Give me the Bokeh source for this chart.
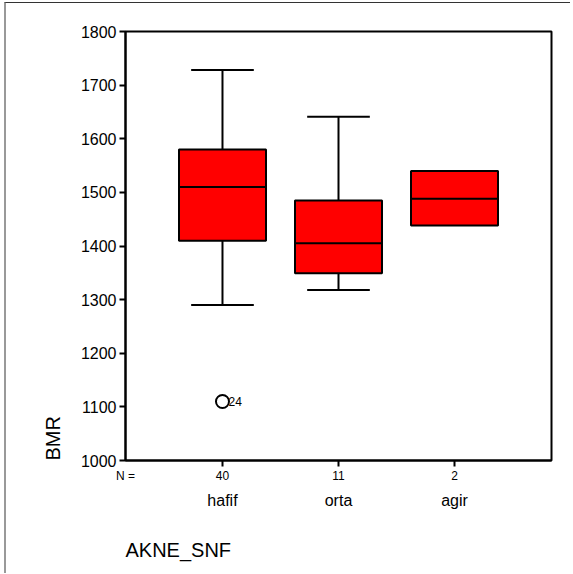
import math
from bokeh.plotting import figure
from bokeh.models import Range1d, FixedTicker, LinearAxis, Title
from bokeh.embed import file_html
from bokeh.resources import INLINE
from bokeh.core.properties import value

# ---- data ----
categories = ["hafif", "orta", "agir"]
counts = ["40", "11", "2"]
positions = [1, 2, 3]
q1 = [1410, 1349, 1438]
median = [1510, 1405, 1488]
q3 = [1580, 1485, 1540]
whisker_low = [1290, 1318, None]
whisker_high = [1728, 1641, None]
outlier_pos = [1]
outlier_val = [1110]
outlier_id = ["24"]
y_ticks = [1000, 1100, 1200, 1300, 1400, 1500, 1600, 1700, 1800]
n_label = "N ="
x_lo, x_hi = 0.164, 3.836

FONT = "Liberation Sans"
BOX_W = 0.75
CAP_W = 0.54

p = figure(width=566, height=571, output_backend="svg", toolbar_location=None,
           x_range=Range1d(x_lo, x_hi), y_range=Range1d(1000, 1800),
           min_border_left=119, min_border_top=28, min_border_right=21,
           min_border_bottom=114, x_axis_type=None)
p.styles = {"margin-left": "4px", "margin-top": "2px",
            "border-left": "2px solid #999999", "border-top": "1px solid #333333"}
p.grid.visible = False
p.outline_line_color = "black"
p.outline_line_width = 2
p.outline_line_alpha = 1
p.background_fill_color = "white"
p.border_fill_color = "white"

# y axis
ya = p.yaxis[0]
ya.ticker = FixedTicker(ticks=y_ticks)
ya.major_label_text_font = FONT
ya.major_label_text_font_size = "16px"
ya.major_label_text_color = "black"
ya.major_tick_out = 6
ya.major_tick_in = 0
ya.minor_tick_line_color = None
ya.axis_line_width = 2
ya.major_tick_line_width = 2
ya.major_label_standoff = 3

# x axis line + tick marks only
xa0 = LinearAxis(ticker=FixedTicker(ticks=positions),
                 major_label_overrides={pos: " " for pos in positions})
xa0.major_label_text_font_size = "0px"
xa0.major_label_standoff = 0
xa0.major_tick_out = 6
xa0.major_tick_in = 0
xa0.minor_tick_line_color = None
xa0.axis_line_width = 2
xa0.major_tick_line_width = 2
p.add_layout(xa0, "below")

# counts row (with "N =")
count_ticks = [x_lo] + positions
count_labels = [n_label] + counts
xa = LinearAxis(ticker=FixedTicker(ticks=count_ticks),
                major_label_overrides={t: c for t, c in zip(count_ticks, count_labels)})
xa.major_label_text_font = FONT
xa.major_label_text_font_size = "12px"
xa.major_label_text_color = "black"
xa.axis_line_color = None
xa.major_tick_line_color = None
xa.minor_tick_line_color = None
xa.major_tick_out = 0
xa.major_label_standoff = 2
p.add_layout(xa, "below")

# category names row
xa2 = LinearAxis(ticker=FixedTicker(ticks=positions),
                 major_label_overrides={pos: c for pos, c in zip(positions, categories)})
xa2.major_label_text_font = FONT
xa2.major_label_text_font_size = "16px"
xa2.major_label_text_color = "black"
xa2.axis_line_color = None
xa2.major_tick_line_color = None
xa2.minor_tick_line_color = None
xa2.major_tick_out = 0
xa2.major_label_standoff = 6
p.add_layout(xa2, "below")

# empty spacer row between the names and the axis title (invisible ticks)
xs = LinearAxis(ticker=FixedTicker(ticks=positions),
                major_label_overrides={pos: " " for pos in positions})
xs.major_label_text_font_size = "0px"
xs.axis_line_alpha = 0
xs.major_tick_line_color = "black"
xs.major_tick_line_alpha = 0
xs.minor_tick_line_color = None
xs.major_tick_out = 25
xs.major_tick_in = 0
xs.major_label_standoff = 0
p.add_layout(xs, "below")

# whiskers (only where present)
wi = [i for i in range(len(positions)) if whisker_low[i] is not None]
wx = [positions[i] for i in wi]
wlo = [whisker_low[i] for i in wi]
whi = [whisker_high[i] for i in wi]
wq1 = [q1[i] for i in wi]
wq3 = [q3[i] for i in wi]
p.segment(x0=wx, y0=wq3, x1=wx, y1=whi, line_color="black", line_width=2)
p.segment(x0=wx, y0=wq1, x1=wx, y1=wlo, line_color="black", line_width=2)
p.segment(x0=[x - CAP_W / 2 for x in wx], y0=whi,
          x1=[x + CAP_W / 2 for x in wx], y1=whi, line_color="black", line_width=2)
p.segment(x0=[x - CAP_W / 2 for x in wx], y0=wlo,
          x1=[x + CAP_W / 2 for x in wx], y1=wlo, line_color="black", line_width=2)

# boxes
p.vbar(x=positions, width=BOX_W, bottom=q1, top=q3, fill_color="#FF0000",
       line_color="black", line_width=2)
p.segment(x0=[x - BOX_W / 2 for x in positions], y0=median,
          x1=[x + BOX_W / 2 for x in positions], y1=median, line_color="black", line_width=2)

# outliers
p.scatter(x=outlier_pos, y=outlier_val, size=13, marker="circle", fill_color="white",
          line_color="black", line_width=2)
p.text(x=outlier_pos, y=outlier_val, text=outlier_id, x_offset=6, text_baseline="middle",
       text_align="left", text_font=value(FONT), text_font_size="12px", text_color="black")

# axis titles
p.add_layout(Title(text="BMR", align="left", text_font=FONT, text_font_size="20px",
                   text_font_style="normal", text_color="black", standoff=28), "left")
p.add_layout(Title(text="AKNE_SNF", align="left", text_font=FONT, text_font_size="20px",
                   text_font_style="normal", text_color="black", standoff=0), "below")

open("out.html", "w").write(file_html(p, INLINE))
